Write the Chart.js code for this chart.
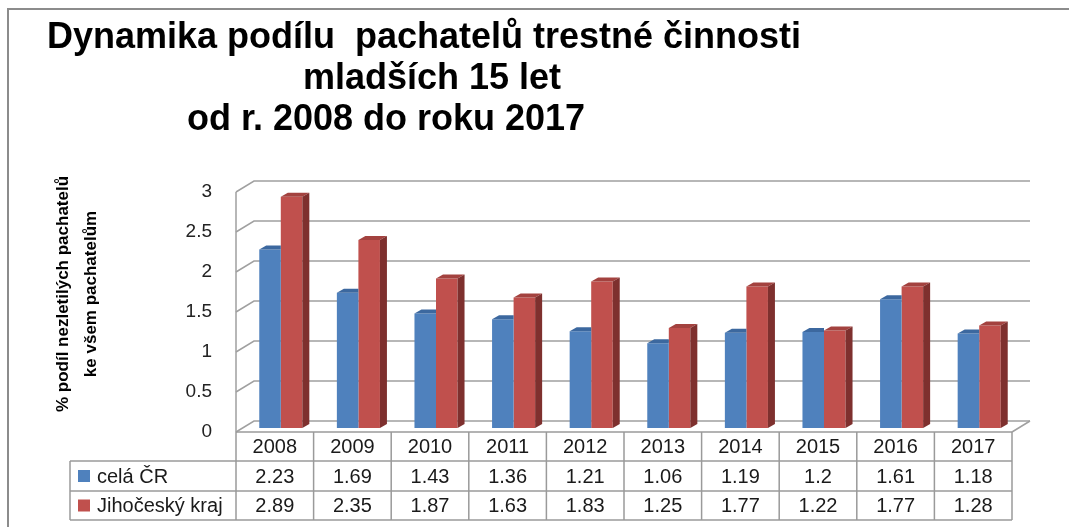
<!DOCTYPE html>
<html>
<head>
<meta charset="utf-8">
<script src="https://cdn.jsdelivr.net/npm/chart.js@4/dist/chart.umd.min.js"></script>
<style>
  html, body { margin: 0; padding: 0; background: #fff; }
  canvas { display: block; }
</style>
</head>
<body>
<canvas id="chart" width="1069" height="527"></canvas>
<script>
const years = ["2008", "2009", "2010", "2011", "2012", "2013", "2014", "2015", "2016", "2017"];
const celaCR = [2.23, 1.69, 1.43, 1.36, 1.21, 1.06, 1.19, 1.2, 1.61, 1.18];
const jihocesky = [2.89, 2.35, 1.87, 1.63, 1.83, 1.25, 1.77, 1.22, 1.77, 1.28];
const seriesNames = ["celá ČR", "Jihočeský kraj"];
const titleLines = ["Dynamika podílu  pachatelů trestné činnosti", "mladších 15 let", "od r. 2008 do roku 2017"];
const yTitleLines = ["% podíl nezletilých pachatelů", "ke všem pachatelům"];

const BLUE = "#4f81bd", RED = "#c0504d";
const NARROW = '"Liberation Sans Narrow", "Liberation Sans", sans-serif';
const BODY = '"Liberation Sans", sans-serif';

// 3d offsets: wall depth, bar plane shift, bar depth
const DX = 18, DY = -11;
const BX = 6, BY = -4;
const TX = 7, TY = -4;

function poly(ctx, pts, fill) {
  ctx.beginPath();
  ctx.moveTo(pts[0][0], pts[0][1]);
  pts.slice(1).forEach(p => ctx.lineTo(p[0], p[1]));
  ctx.closePath();
  ctx.fillStyle = fill;
  ctx.fill();
}

const excel3d = {
  id: "excel3d",
  beforeDraw(chart) {
    const { ctx } = chart;
    ctx.save();
    ctx.strokeStyle = "#8c8c8c";
    ctx.lineWidth = 2;
    ctx.beginPath();
    ctx.moveTo(8, 527); ctx.lineTo(8, 9); ctx.lineTo(1069, 9);
    ctx.stroke();

    ctx.fillStyle = "#000";
    ctx.font = "bold 36px " + NARROW;
    ctx.textAlign = "center";
    ctx.textBaseline = "alphabetic";
    const centers = [424, 432, 386];
    const baselines = [48, 89, 130];
    titleLines.forEach((t, i) => ctx.fillText(t, centers[i], baselines[i]));

    ctx.font = "bold 17px " + NARROW;
    ctx.textBaseline = "middle";
    ctx.translate(63, 294);
    ctx.rotate(-Math.PI / 2);
    yTitleLines.forEach((t, i) => ctx.fillText(t, 0, i * 28));
    ctx.restore();
  },
  beforeDatasetsDraw(chart) {
    const { ctx, chartArea: a, scales: { y } } = chart;
    ctx.save();
    ctx.strokeStyle = "#a0a0a0";
    ctx.lineWidth = 1.5;
    y.ticks.forEach(t => {
      const py = y.getPixelForValue(t.value);
      ctx.beginPath();
      ctx.moveTo(a.left, py);
      ctx.lineTo(a.left + DX, py + DY);
      ctx.lineTo(a.right + DX, py + DY);
      ctx.stroke();
    });
    ctx.beginPath();
    ctx.moveTo(a.left, a.top); ctx.lineTo(a.left, a.bottom);
    ctx.moveTo(a.right, a.bottom); ctx.lineTo(a.right + DX, a.bottom + DY);
    ctx.stroke();
    ctx.restore();
    ctx.save();
    ctx.translate(BX, BY);
  },
  afterDatasetsDraw(chart) {
    const { ctx } = chart;
    const blue = chart.getDatasetMeta(0).data;
    const red = chart.getDatasetMeta(1).data;
    red.forEach((r, i) => {
      const b = blue[i];
      const bl = b.x - b.width / 2, br = b.x + b.width / 2;
      poly(ctx, [[bl, b.y], [bl + TX, b.y + TY], [br, b.y + TY], [br, b.y]], "#3c689f");
      const rl = r.x - r.width / 2, rr = r.x + r.width / 2;
      poly(ctx, [[rl, r.y], [rl + TX, r.y + TY], [rr + TX, r.y + TY], [rr, r.y]], "#a3423f");
      poly(ctx, [[rr, r.y], [rr + TX, r.y + TY], [rr + TX, r.base + TY], [rr, r.base]], "#7e302e");
    });
    ctx.restore();
  },
  afterDraw(chart) {
    const { ctx, chartArea: a, scales: { x } } = chart;
    const half = (a.right - a.left) / years.length / 2;
    const rows = [a.bottom, 461, 491, 520];
    const legL = 70;
    ctx.save();
    ctx.strokeStyle = "#9a9a9a";
    ctx.lineWidth = 1.5;
    ctx.beginPath();
    ctx.moveTo(a.left, rows[0]); ctx.lineTo(a.right, rows[0]);
    for (let r = 1; r < 4; r++) { ctx.moveTo(legL, rows[r]); ctx.lineTo(a.right, rows[r]); }
    ctx.moveTo(legL, rows[1]); ctx.lineTo(legL, rows[3]);
    years.forEach((_, i) => {
      const c = x.getPixelForValue(i);
      ctx.moveTo(c - half, rows[0]); ctx.lineTo(c - half, rows[3]);
    });
    ctx.moveTo(a.right, rows[0]); ctx.lineTo(a.right, rows[3]);
    ctx.stroke();

    ctx.fillStyle = "#1a1a1a";
    ctx.font = "20px " + BODY;
    ctx.textAlign = "center";
    ctx.textBaseline = "middle";
    const series = [celaCR, jihocesky];
    years.forEach((yr, i) => {
      const c = x.getPixelForValue(i);
      ctx.fillText(yr, c, (rows[0] + rows[1]) / 2 + 1);
      series.forEach((s, k) => ctx.fillText(String(s[i]), c, (rows[k + 1] + rows[k + 2]) / 2 + 1));
    });
    ctx.textAlign = "left";
    [BLUE, RED].forEach((col, k) => {
      const cy = (rows[k + 1] + rows[k + 2]) / 2;
      ctx.fillStyle = col;
      ctx.fillRect(legL + 8, cy - 6, 12, 12);
      ctx.fillStyle = "#1a1a1a";
      ctx.fillText(seriesNames[k], legL + 27, cy + 1);
    });
    ctx.restore();
  }
};

new Chart(document.getElementById("chart"), {
  type: "bar",
  data: {
    labels: years,
    datasets: [
      { label: seriesNames[0], data: celaCR, backgroundColor: BLUE },
      { label: seriesNames[1], data: jihocesky, backgroundColor: RED }
    ]
  },
  options: {
    responsive: false,
    animation: false,
    devicePixelRatio: 1,
    layout: { padding: { top: 192, right: 57, bottom: 95, left: 0 } },
    datasets: { bar: { categoryPercentage: 0.555, barPercentage: 1 } },
    plugins: { legend: { display: false }, tooltip: { enabled: false }, title: { display: false } },
    scales: {
      x: { display: false, offset: true },
      y: {
        min: 0, max: 3,
        grid: { display: false, drawTicks: false },
        border: { display: false },
        afterFit: s => { s.width = 236; },
        ticks: {
          stepSize: 0.5, padding: 24, color: "#222",
          font: { family: BODY, size: 19 },
          callback: v => String(v)
        }
      }
    }
  },
  plugins: [excel3d]
});
</script>
</body>
</html>
